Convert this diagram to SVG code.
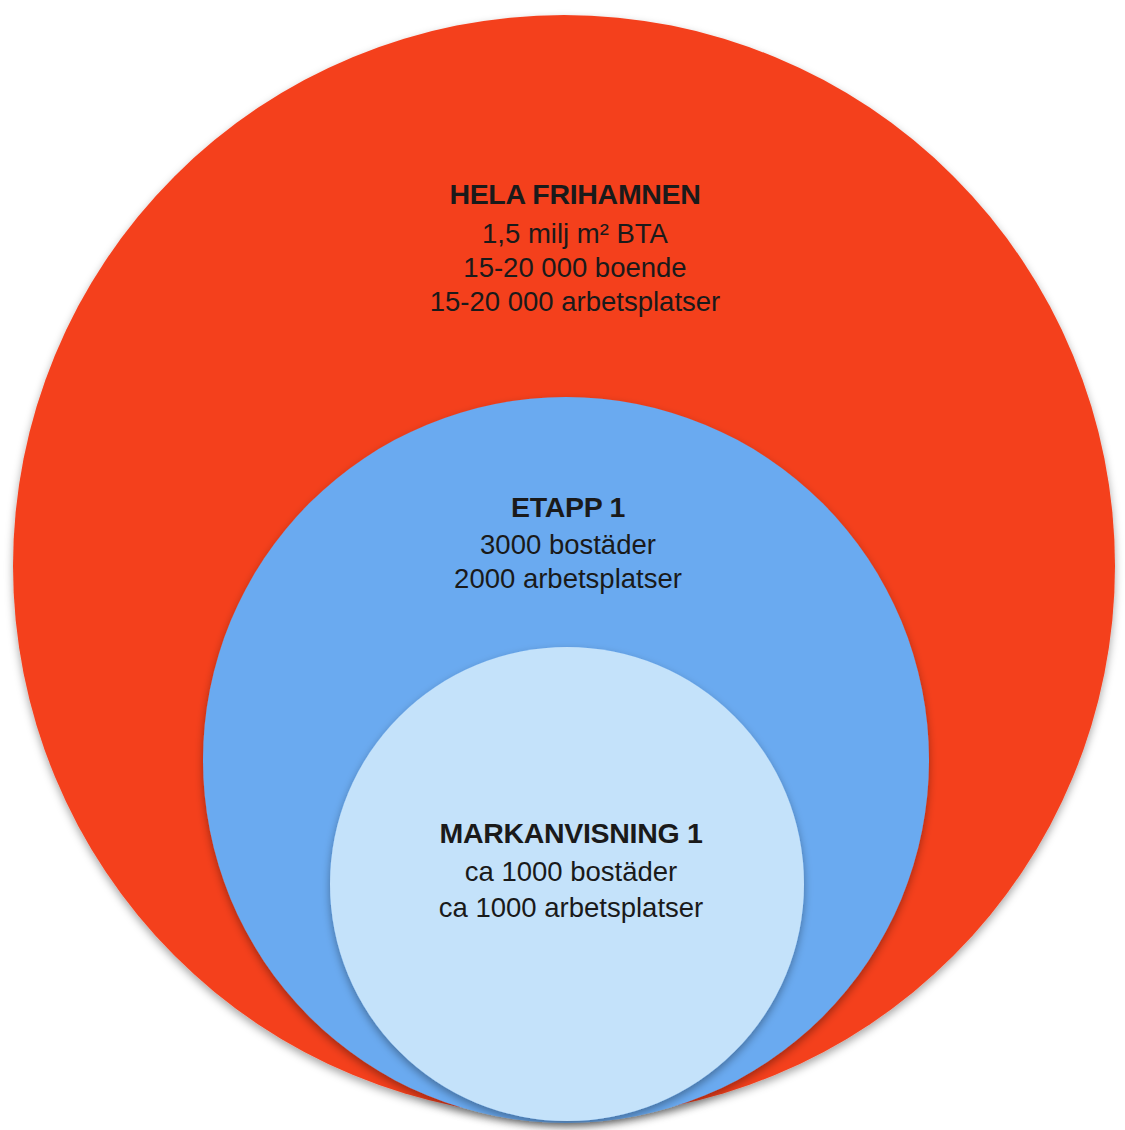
<svg xmlns="http://www.w3.org/2000/svg" width="1125" height="1130" viewBox="0 0 1125 1130">
<defs>
<filter id="sh" x="-10%" y="-10%" width="120%" height="125%">
<feDropShadow dx="0" dy="4" stdDeviation="4" flood-color="#000" flood-opacity="0.35"/>
</filter>
<style>
.t{font-family:"Liberation Sans",Arial,sans-serif;fill:#1a1a1a;text-anchor:middle;}
.h{font-weight:bold;font-size:28.5px;letter-spacing:-0.3px;}
.n{font-size:27.5px;}
</style>
</defs>
<rect width="1125" height="1130" fill="#ffffff"/>
<g id="hela-frihamnen">
<circle cx="564" cy="566" r="551" fill="#F4401F" filter="url(#sh)"/>
<text class="t h" x="575" y="204">HELA FRIHAMNEN</text>
<text class="t n" x="575" y="243">1,5 milj m² BTA</text>
<text class="t n" x="575" y="277">15-20 000 boende</text>
<text class="t n" x="575" y="311">15-20 000 arbetsplatser</text>
</g>
<g id="etapp-1">
<circle cx="566" cy="760" r="363" fill="#6AAAF0" filter="url(#sh)"/>
<text class="t h" x="568" y="517">ETAPP 1</text>
<text class="t n" x="568" y="554">3000 bostäder</text>
<text class="t n" x="568" y="588">2000 arbetsplatser</text>
</g>
<g id="markanvisning-1">
<circle cx="567" cy="884" r="237" fill="#C4E2FA" filter="url(#sh)"/>
<text class="t h" x="571" y="843">MARKANVISNING 1</text>
<text class="t n" x="571" y="881">ca 1000 bostäder</text>
<text class="t n" x="571" y="917">ca 1000 arbetsplatser</text>
</g>
<g id="connectors"/>
</svg>
